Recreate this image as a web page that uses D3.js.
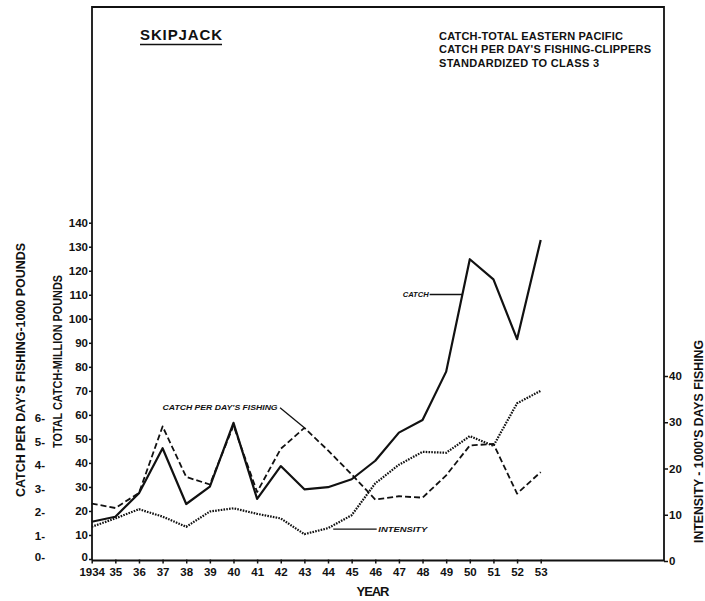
<!doctype html>
<html lang="en">
<head>
  <meta charset="utf-8">
  <title>Skipjack</title>
  <script src="https://cdn.jsdelivr.net/npm/d3@7"></script>
  <style>
    body { margin: 0; background: #fff; }
    svg { display: block; font-family: "Liberation Sans", Arial, sans-serif; font-weight: bold; }
    .tick text { font-family: "Liberation Sans", Arial, sans-serif; font-weight: bold; fill: #111; }
    .tick line { stroke: #111; stroke-width: 1.5; }
  </style>
</head>
<body>
  <div id="chart"></div>
  <script>
    const BLACK = "#111";

    // data
    const years = [1934, 1935, 1936, 1937, 1938, 1939, 1940, 1941, 1942, 1943,
      1944, 1945, 1946, 1947, 1948, 1949, 1950, 1951, 1952, 1953];
    // total catch, million pounds
    const catchValues = [15.5, 17.6, 27.4, 46.1, 22.9, 30.1, 56.7, 25.0, 38.7, 29.0,
      29.9, 33.2, 40.9, 52.6, 57.9, 78.0, 124.8, 116.4, 91.5, 132.8];
    // catch per day's fishing, 1000 pounds
    const cpdValues = [2.36, 2.17, 2.81, 5.64, 3.49, 3.17, 5.68, 2.85, 4.69, 5.58,
      4.62, 3.60, 2.53, 2.67, 2.61, 3.56, 4.83, 4.90, 2.78, 3.70];
    // intensity, 1000's days fishing
    const intensityValues = [7.4, 9.2, 11.2, 9.6, 7.4, 10.7, 11.4, 10.2, 9.2, 5.8,
      7.1, 9.9, 16.8, 20.8, 23.6, 23.4, 27.0, 24.9, 34.1, 36.8];

    const catchTicks = [0, 10, 20, 30, 40, 50, 60, 70, 80, 90, 100, 110, 120, 130, 140];
    const cpdTicks = [0, 1, 2, 3, 4, 5, 6];
    const intensityTicks = [0, 10, 20, 30, 40];

    const titleLines = [
      "CATCH-TOTAL EASTERN PACIFIC",
      "CATCH PER DAY'S FISHING-CLIPPERS",
      "STANDARDIZED TO CLASS 3"
    ];

    const w = 705;
    const h = 601;
    const frameLeft = 92, frameRight = 664, frameTop = 7, frameBottom = 559.5;

    const xScale = d3.scaleLinear().domain([1934, 1953]).range([91.7, 540.7]);
    const yCatch = d3.scaleLinear().domain([0, 140]).range([559, 222.7]);
    const yCpd = d3.scaleLinear().domain([0, 6]).range([559, 418]);
    const yInt = d3.scaleLinear().domain([0, 40]).range([561, 376]);

    const svg = d3.select("#chart")
      .append("svg")
      .attr("width", w)
      .attr("height", h);

    // frame
    svg.append("path")
      .attr("d", `M${frameLeft},${frameBottom}V${frameTop}H${frameRight}V${frameBottom + 1}H${frameLeft}`)
      .style("fill", "none")
      .style("stroke", BLACK)
      .style("stroke-width", 1.8);

    // axes
    const xAxis = d3.axisBottom(xScale)
      .tickValues(years)
      .tickSize(4)
      .tickPadding(4)
      .tickFormat(d => d === 1934 ? "1934" : String(d).slice(2));
    addAxis(`translate(0, ${frameBottom})`, xAxis, 11.5);

    const catchAxis = d3.axisLeft(yCatch)
      .tickValues(catchTicks)
      .tickSize(3)
      .tickPadding(1);
    const catchG = addAxis(`translate(${frameLeft}, 0)`, catchAxis, 11.5);
    // the zero label sits a touch above the baseline on the plate
    catchG.selectAll(".tick text").filter(d => d === 0).attr("dy", "0.1em");

    const cpdAxis = d3.axisLeft(yCpd)
      .tickValues(cpdTicks)
      .tickSize(0)
      .tickPadding(0)
      .tickFormat(d => d + "-");
    const cpdG = addAxis("translate(45, 0)", cpdAxis, 11.5);
    cpdG.selectAll(".tick text").filter(d => d === 0).attr("dy", "0.1em");

    const intAxis = d3.axisRight(yInt)
      .tickValues(intensityTicks)
      .tickSize(4)
      .tickPadding(1);
    addAxis(`translate(${frameRight}, 0)`, intAxis, 11.5);

    // series
    addPath(catchValues, yCatch, 2.2, null);
    addPath(cpdValues, yCpd, 1.8, "6,3");
    addPath(intensityValues, yInt, 2.2, "1.6,1.2");

    // axis titles
    addRotated(25, 370, "CATCH PER DAY'S FISHING-1000 POUNDS", 254);
    addRotated(62, 361.5, "TOTAL CATCH-MILLION POUNDS", 173);
    addRotated(703, 441.5, "INTENSITY - 1000'S DAYS FISHING", 203);

    svg.append("text")
      .attr("x", 373)
      .attr("y", 596)
      .attr("text-anchor", "middle")
      .style("font-size", "13px")
      .style("fill", BLACK)
      .attr("textLength", 33)
      .text("YEAR");

    // title block
    svg.append("text")
      .attr("x", 140)
      .attr("y", 40)
      .style("font-size", "15px")
      .style("fill", BLACK)
      .attr("textLength", 82)
      .text("SKIPJACK");
    svg.append("line")
      .attr("x1", 140).attr("x2", 222)
      .attr("y1", 44.5).attr("y2", 44.5)
      .style("stroke", BLACK)
      .style("stroke-width", 1.6);

    const titleWidths = [184, 212, 160];
    titleLines.forEach((t, i) => {
      svg.append("text")
        .attr("x", 439)
        .attr("y", 40 + i * 13.4)
        .style("font-size", "11px")
        .style("fill", BLACK)
        .attr("textLength", titleWidths[i])
        .text(t);
    });

    // line labels with leaders
    addNote(1937.0, yCpd(6.36), "CATCH PER DAY'S FISHING", 115);
    addLeader(1941.97, yCpd(6.44), 1943, yCpd(cpdValues[9]));

    addNote(1947.16, yCatch(109), "CATCH", 26);
    addLeader(1948.3, yCatch(110.1), 1949.7, yCatch(110.1));

    addNote(1946.13, yInt(6.2), "INTENSITY", 49);
    addLeader(1944.22, yInt(6.9), 1946.06, yInt(6.9));

    function addAxis(transform, axis, size) {
      const g = svg.append("g")
        .attr("transform", transform)
        .call(axis);
      g.select(".domain").remove();
      g.selectAll("text").style("font-size", size + "px");
      return g;
    }

    function addPath(values, yScale, width, dash) {
      const line = d3.line()
        .x((d, i) => xScale(years[i]))
        .y(d => yScale(d));
      svg.append("path")
        .datum(values)
        .attr("d", line)
        .style("fill", "none")
        .style("stroke", BLACK)
        .style("stroke-width", width)
        .style("stroke-linejoin", "round")
        .style("stroke-dasharray", dash);
    }

    function addRotated(x, y, text, len) {
      svg.append("text")
        .attr("transform", `translate(${x}, ${y}) rotate(-90)`)
        .attr("text-anchor", "middle")
        .style("font-size", "12px")
        .style("fill", BLACK)
        .attr("textLength", len)
        .attr("lengthAdjust", "spacingAndGlyphs")
        .text(text);
    }

    function addNote(year, y, text, len) {
      svg.append("text")
        .attr("x", xScale(year))
        .attr("y", y)
        .style("font-size", "8px")
        .style("font-style", "italic")
        .style("fill", BLACK)
        .attr("textLength", len)
        .attr("lengthAdjust", "spacingAndGlyphs")
        .text(text);
    }

    function addLeader(y1Year, y1, y2Year, y2) {
      svg.append("line")
        .attr("x1", xScale(y1Year)).attr("y1", y1)
        .attr("x2", xScale(y2Year)).attr("y2", y2)
        .style("stroke", BLACK)
        .style("stroke-width", 1.3);
    }
  </script>
</body>
</html>
